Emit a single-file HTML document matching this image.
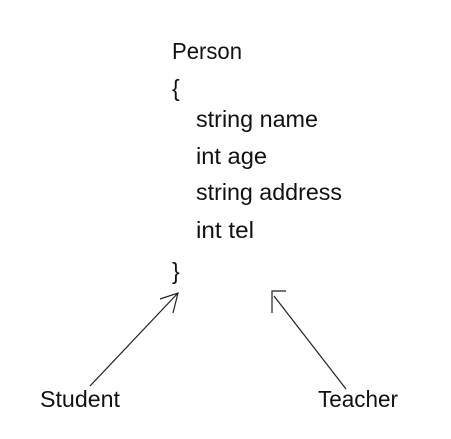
<!DOCTYPE html>
<html><head><style>html,body{margin:0;padding:0;background:#fff;}svg{display:block}</style></head>
<body>
<svg width="451" height="439" xmlns="http://www.w3.org/2000/svg" font-family="Liberation Sans, sans-serif" font-size="23" fill="#111">
<text x="172" y="59" textLength="70" lengthAdjust="spacingAndGlyphs">Person</text>
<text x="172" y="96">{</text>
<text x="196" y="127" textLength="122" lengthAdjust="spacingAndGlyphs">string name</text>
<text x="196" y="164" textLength="71" lengthAdjust="spacingAndGlyphs">int age</text>
<text x="196" y="200" textLength="146" lengthAdjust="spacingAndGlyphs">string address</text>
<text x="196" y="238" textLength="58" lengthAdjust="spacingAndGlyphs">int tel</text>
<text x="172" y="279">}</text>
<text x="40" y="407" textLength="80" lengthAdjust="spacingAndGlyphs">Student</text>
<text x="318" y="407" textLength="80" lengthAdjust="spacingAndGlyphs">Teacher</text>
<g stroke="#222" stroke-width="1.2" fill="none">
<line x1="90" y1="386" x2="178" y2="293"/>
<polyline points="160,299 178,293 173,313"/>
<line x1="346" y1="389" x2="274" y2="296"/>
<polyline points="272,313 272,291 286,291"/>
</g>
</svg>
</body></html>
